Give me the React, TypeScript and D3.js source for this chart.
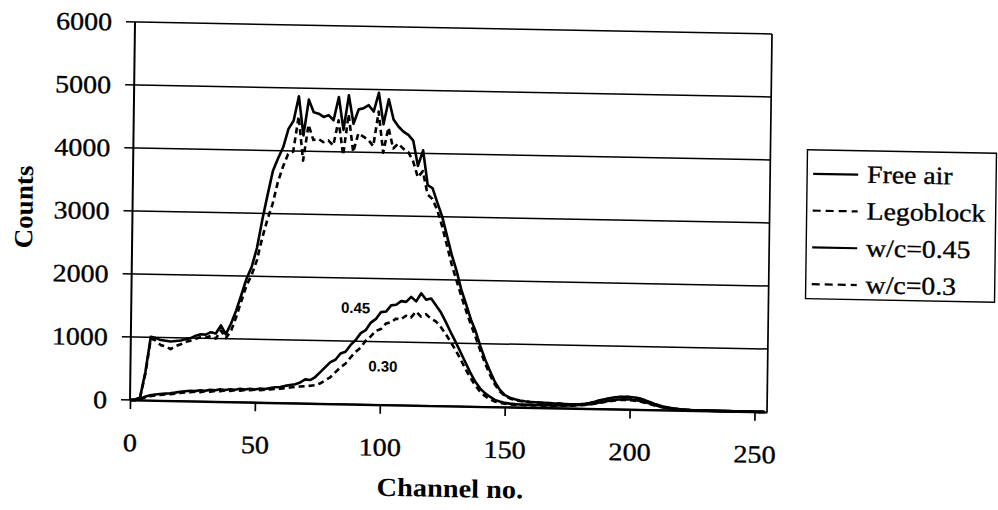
import React, { useEffect, useRef } from 'react';
import * as d3 from 'd3';

// channel numbers sampled every 2nd channel (0..254)
const channels = d3.range(0, 256, 2);

const freeAir = [
  0, 10, 45, 450, 1010, 990, 960, 950, 940, 950, 960, 985, 1000, 1040, 1065, 1060,
  1100, 1080, 1210, 1070, 1240, 1450, 1700, 1960, 2150, 2450, 2900, 3300, 3680, 3880, 4060, 4350,
  4480, 4870, 4250, 4820, 4620, 4600, 4550, 4580, 4500, 4870, 4350, 4900, 4450, 4680, 4700, 4750,
  4650, 4950, 4450, 4850, 4530, 4420, 4340, 4290, 4200, 3800, 4050, 3500, 3450, 3220, 3000, 2700,
  2400, 2150, 1850, 1620, 1380, 1190, 950, 740, 560, 390, 270, 190, 150, 125, 108, 98,
  90, 86, 82, 78, 75, 72, 70, 67, 64, 63, 66, 75, 90, 110, 135, 155,
  172, 186, 195, 200, 196, 190, 176, 152, 122, 95, 70, 50, 36, 26, 18, 12,
  8, 6, 5, 4, 4, 3, 3, 2, 2, 2, 1, 1, 1, 1, 0, 0
];

const legoblock = [
  0, 10, 40, 420, 980, 950, 880, 860, 820, 870, 900, 940, 960, 990, 1020, 1010,
  1040, 1000, 1130, 1010, 1120, 1340, 1600, 1850, 2020, 2250, 2600, 2900, 3150, 3500, 3750, 3950,
  3990, 4550, 3850, 4420, 4180, 4200, 4150, 4180, 4100, 4500, 3950, 4600, 4000, 4300, 4250, 4200,
  4100, 4650, 4000, 4400, 4070, 4150, 4070, 4020, 3880, 3620, 3720, 3350, 3280, 3100, 2850, 2550,
  2250, 2000, 1750, 1520, 1300, 1100, 880, 680, 500, 350, 245, 175, 138, 115, 100, 92,
  86, 82, 78, 75, 72, 70, 68, 65, 62, 61, 64, 72, 88, 108, 132, 152,
  170, 184, 193, 198, 194, 188, 174, 150, 120, 92, 68, 48, 35, 25, 17, 11,
  8, 6, 5, 4, 3, 3, 2, 2, 2, 1, 1, 1, 1, 0, 0, 0
];

const wc045 = [
  0, 0, 20, 55, 80, 95, 105, 112, 120, 130, 145, 155, 165, 160, 175, 170,
  185, 180, 195, 188, 200, 195, 210, 200, 215, 205, 220, 215, 230, 245, 250, 270,
  285, 300, 330, 380, 370, 420, 500, 580, 660, 700, 800, 830, 940, 1020, 1130, 1180,
  1300, 1360, 1470, 1480, 1580, 1590, 1650, 1640, 1720, 1650, 1780, 1680, 1700, 1590, 1480, 1330,
  1170, 1020, 860, 700, 540, 400, 290, 215, 160, 110, 85, 66, 56, 50, 46, 44,
  42, 41, 40, 40, 40, 41, 42, 44, 46, 50, 55, 62, 72, 85, 100, 118,
  132, 145, 154, 160, 158, 150, 138, 120, 98, 76, 56, 40, 28, 20, 14, 10,
  7, 5, 4, 3, 3, 2, 2, 2, 1, 1, 1, 1, 0, 0, 0, 0
];

const wc030 = [
  0, 0, 15, 45, 65, 80, 90, 97, 105, 115, 125, 135, 140, 150, 146, 160,
  156, 170, 165, 178, 175, 186, 182, 195, 190, 200, 196, 205, 210, 218, 225, 235,
  245, 255, 265, 272, 280, 290, 320, 370, 420, 500, 580, 640, 740, 830, 900, 1010,
  1080, 1170, 1200, 1290, 1310, 1370, 1360, 1420, 1390, 1490, 1410, 1450, 1380, 1340, 1250, 1140,
  1020, 890, 750, 600, 460, 340, 240, 170, 120, 85, 65, 52, 45, 40, 37, 35,
  34, 33, 33, 33, 34, 35, 37, 39, 42, 46, 51, 58, 68, 80, 95, 110,
  124, 136, 145, 150, 148, 140, 128, 110, 90, 70, 52, 37, 26, 18, 13, 9,
  6, 5, 4, 3, 2, 2, 2, 1, 1, 1, 1, 0, 0, 0, 0, 0
];

const seriesNames = ['Free air', 'Legoblock', 'w/c=0.45', 'w/c=0.3'];
const seriesValues = [freeAir, legoblock, wc045, wc030];
const seriesDashed = [false, true, false, true];

const xTicks = [0, 50, 100, 150, 200, 250];
const yTicks = [0, 1000, 2000, 3000, 4000, 5000, 6000];

// small labels written next to the concrete curves: [text, channel, counts]
const curveNotes: [string, number, number][] = [
  ['0.45', 89.8, 1535],
  ['0.30', 101, 613]
];

const SERIF = "'Liberation Serif', 'Times New Roman', serif";
const SANS = "'Liberation Sans', Arial, sans-serif";

function App() {
  const svgRef = useRef<SVGSVGElement>(null);

  useEffect(() => {
    if (!svgRef.current) return;
    const svg = d3.select(svgRef.current);
    svg.selectAll('*').remove();

    const width = 637;
    const height = 378;

    // the scanned page is a little skewed, so the whole chart is too
    const g = svg
      .append('g')
      .attr('transform', 'translate(135,22) matrix(1,0.0188,-0.0132,1,0,0)');

    const x = d3.scaleLinear().domain([0, 255]).range([0, width]);
    const y = d3.scaleLinear().domain([0, 6000]).range([height, 0]);

    // horizontal gridlines (they poke out left of the axis like tick marks)
    g.append('g')
      .selectAll('line')
      .data(yTicks)
      .join('line')
      .attr('x1', -9)
      .attr('x2', width)
      .attr('y1', d => y(d))
      .attr('y2', d => y(d))
      .attr('stroke', '#000')
      .attr('stroke-width', 1.5);

    g.append('line')
      .attr('x1', width).attr('x2', width)
      .attr('y1', 0).attr('y2', height)
      .attr('stroke', '#000').attr('stroke-width', 1.7);

    g.append('line')
      .attr('x1', 0).attr('x2', 0)
      .attr('y1', 0).attr('y2', height)
      .attr('stroke', '#000').attr('stroke-width', 2);

    const yAxis = g
      .append('g')
      .call(d3.axisLeft(y).tickValues(yTicks).tickSize(0).tickFormat(d3.format('d')));
    yAxis.select('.domain').remove();
    yAxis
      .selectAll('text')
      .attr('font-family', SERIF)
      .attr('font-size', 25)
      .attr('fill', '#000')
      .attr('stroke', '#000')
      .attr('stroke-width', 0.35)
      .attr('x', -23 / 1.12)
      .attr('dy', '0.33em')
      .attr('transform', 'scale(1.12,1)');

    const xAxis = g
      .append('g')
      .attr('transform', `translate(0,${height})`)
      .call(d3.axisBottom(x).tickValues(xTicks).tickSize(9).tickSizeOuter(0));
    xAxis.select('.domain').attr('stroke-width', 2.2);
    xAxis.selectAll('line').attr('stroke-width', 1.7);
    xAxis
      .selectAll('text')
      .attr('font-family', SERIF)
      .attr('font-size', 25)
      .attr('fill', '#000')
      .attr('stroke', '#000')
      .attr('stroke-width', 0.35)
      .attr('y', 51)
      .attr('dy', 0)
      .attr('transform', 'scale(1.13,1)');

    const line = d3
      .line<number>()
      .x((d, i) => x(channels[i]))
      .y(d => y(d));

    seriesValues.forEach((vals, k) => {
      g.append('path')
        .datum(vals)
        .attr('fill', 'none')
        .attr('stroke', '#000')
        .attr('stroke-width', 2.6)
        .attr('stroke-linejoin', 'round')
        .attr('stroke-dasharray', seriesDashed[k] ? '6,4' : null)
        .attr('d', line);
    });

    curveNotes.forEach(([label, ch, c]) => {
      g.append('text')
        .attr('x', x(ch))
        .attr('y', y(c))
        .attr('text-anchor', 'middle')
        .attr('dominant-baseline', 'central')
        .attr('font-family', SANS)
        .attr('font-weight', 'bold')
        .attr('font-size', 15)
        .text(label);
    });

    // axis titles
    g.append('g')
      .attr('transform', 'translate(321,469)')
      .append('text')
      .attr('text-anchor', 'middle')
      .attr('font-family', SERIF)
      .attr('font-weight', 'bold')
      .attr('font-size', 26)
      .attr('transform', 'scale(1.09,1)')
      .text('Channel no.');

    g.append('g')
      .attr('transform', `translate(-100,${height / 2 - 2}) rotate(-90)`)
      .append('text')
      .attr('text-anchor', 'middle')
      .attr('font-family', SERIF)
      .attr('font-weight', 'bold')
      .attr('font-size', 26)
      .attr('transform', 'scale(1.04,1)')
      .text('Counts');

    // legend
    const legend = g.append('g').attr('transform', 'translate(674,115)');
    legend
      .append('rect')
      .attr('width', 189)
      .attr('height', 149)
      .attr('fill', '#fff')
      .attr('stroke', '#000')
      .attr('stroke-width', 1.4);

    seriesNames.forEach((name, k) => {
      const row = legend.append('g').attr('transform', `translate(0,${32 + k * 36.8})`);
      row
        .append('line')
        .attr('x1', 6).attr('x2', 51)
        .attr('y1', -8).attr('y2', -8)
        .attr('stroke', '#000')
        .attr('stroke-width', 2.2)
        .attr('stroke-dasharray', seriesDashed[k] ? '8,5' : null);
      row
        .append('g')
        .attr('transform', 'translate(60,0)')
        .append('text')
        .attr('font-family', SERIF)
        .attr('font-size', 25)
        .attr('stroke', '#000')
        .attr('stroke-width', 0.35)
        .attr('transform', 'scale(1.11,1)')
        .text(name);
    });
  }, []);

  return (
    <svg
      ref={svgRef}
      width={998}
      height={510}
      style={{ position: 'absolute', left: 0, top: 0, background: '#fff' }}
    />
  );
}

export default App;
